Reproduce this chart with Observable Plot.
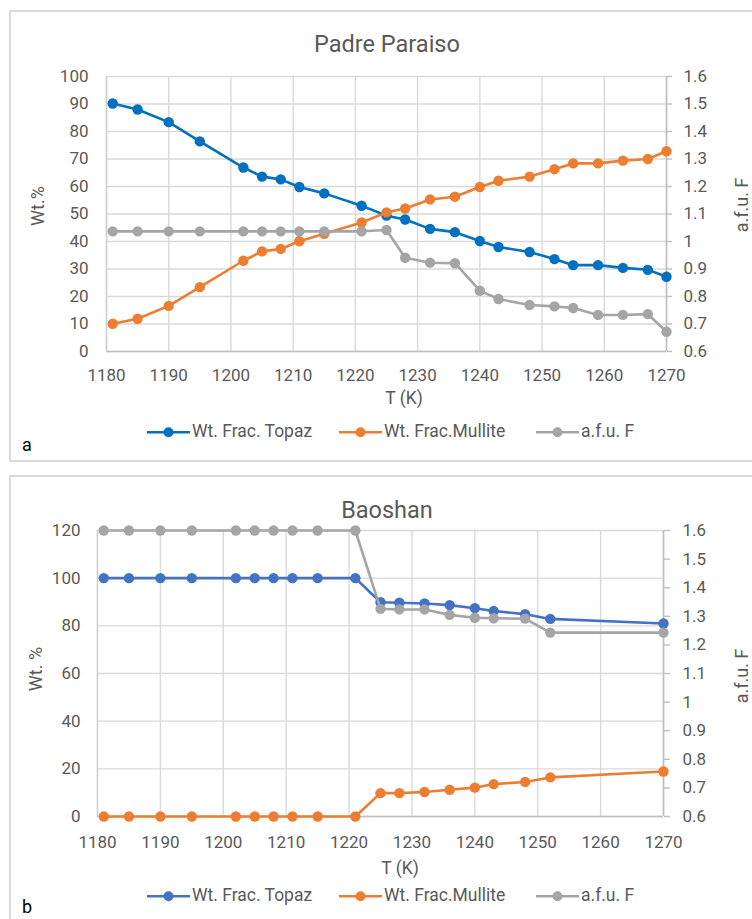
<!DOCTYPE html>
<html>
<head>
<meta charset="utf-8">
<script src="https://cdn.jsdelivr.net/npm/d3@7"></script>
<script src="https://cdn.jsdelivr.net/npm/@observablehq/plot@0.6"></script>
<style>
  body { margin: 0; background: #fff; font-family: Roboto, "Open Sans", sans-serif; }
  #page { position: relative; width: 752px; height: 919px; overflow: hidden; background: #fff; }
  .panel { position: absolute; border: 2px solid #d9d9d9; box-sizing: border-box; }
  .holder { position: absolute; left: 0; }
  .abs { position: absolute; white-space: nowrap; color: #595959; line-height: 1; }
  .title { font-size: 23.5px; transform: translate(-50%, -50%); }
  .ylab { font-size: 18px; transform: translate(-50%, -50%) rotate(-90deg); }
  .xlab { font-size: 17.5px; transform: translate(-50%, -50%); }
  .tag { color: #000; font-size: 18px; transform: translate(0, -50%); }
  .leg { position: absolute; display: flex; align-items: center; font-size: 17.5px; color: #595959; transform: translateY(-50%); white-space: nowrap; line-height: 1; }
  .leg svg { display: block; margin-right: 2px; }
</style>
</head>
<body>
<div id="page"></div>
<script>
// ---------- Data: (a) Padre Paraiso ----------
const padreT = [1181, 1185, 1190, 1195, 1202, 1205, 1208, 1211, 1215, 1221, 1225, 1228, 1232, 1236, 1240, 1243, 1248, 1252, 1255, 1259, 1263, 1267, 1270];
const padreTopaz = [90.2, 88.0, 83.4, 76.4, 66.9, 63.6, 62.6, 59.8, 57.5, 53.0, 49.4, 48.0, 44.6, 43.4, 40.2, 38.0, 36.2, 33.6, 31.4, 31.4, 30.4, 29.7, 27.2];
const padreMullite = [10.1, 11.9, 16.6, 23.4, 33.0, 36.4, 37.3, 40.1, 42.8, 46.9, 50.6, 52.0, 55.3, 56.3, 59.8, 62.1, 63.6, 66.3, 68.4, 68.4, 69.4, 70.0, 72.8];
const padreAfuF = [1.037, 1.037, 1.037, 1.037, 1.037, 1.037, 1.037, 1.037, 1.037, 1.037, 1.042, 0.941, 0.923, 0.921, 0.821, 0.791, 0.769, 0.764, 0.758, 0.733, 0.733, 0.736, 0.672];

// ---------- Data: (b) Baoshan ----------
const baoshanT = [1181, 1185, 1190, 1195, 1202, 1205, 1208, 1211, 1215, 1221, 1225, 1228, 1232, 1236, 1240, 1243, 1248, 1252, 1270];
const baoshanTopaz = [100, 100, 100, 100, 100, 100, 100, 100, 100, 100, 89.9, 89.7, 89.4, 88.7, 87.4, 86.2, 84.9, 82.9, 81.0];
const baoshanMullite = [0, 0, 0, 0, 0, 0, 0, 0, 0, 0, 9.8, 9.8, 10.3, 11.2, 12.1, 13.6, 14.5, 16.4, 18.9];
const baoshanAfuF = [1.6, 1.6, 1.6, 1.6, 1.6, 1.6, 1.6, 1.6, 1.6, 1.6, 1.326, 1.324, 1.324, 1.305, 1.295, 1.293, 1.292, 1.243, 1.243];

// ---------- Axis ticks / labels ----------
const xTicks = [1180, 1190, 1200, 1210, 1220, 1230, 1240, 1250, 1260, 1270];
const padreWtTicks = [0, 10, 20, 30, 40, 50, 60, 70, 80, 90, 100];
const baoshanWtTicks = [0, 20, 40, 60, 80, 100, 120];
const afuTicks = [0.6, 0.7, 0.8, 0.9, 1.0, 1.1, 1.2, 1.3, 1.4, 1.5, 1.6];
const seriesNames = ["Wt. Frac. Topaz", "Wt. Frac.Mullite", "a.f.u. F"];

const page = document.getElementById("page");

function el(tag, cls, css, text) {
  const e = document.createElement(tag);
  if (cls) e.className = cls;
  Object.assign(e.style, css || {});
  if (text != null) e.textContent = text;
  page.appendChild(e);
  return e;
}

function makeChart(cfg) {
  const afuMin = 0.6;
  const k = cfg.wtMax / (1.6 - afuMin);          // wt units per a.f.u. unit
  const toWt = a => (a - afuMin) * k;
  const rows = cfg.T.map((t, i) => ({T: t, topaz: cfg.topaz[i], mullite: cfg.mullite[i], afu: toWt(cfg.afu[i])}));
  const afuPos = afuTicks.map(toWt);
  const fmtAfu = v => String(+(afuMin + v / k).toFixed(1));

  const svg = Plot.plot({
    width: 752,
    height: cfg.height,
    marginLeft: cfg.mLeft,
    marginRight: cfg.mRight,
    marginTop: cfg.mTop,
    marginBottom: cfg.mBottom,
    style: {background: "transparent", fontFamily: "Roboto, sans-serif", overflow: "visible", color: "#595959"},
    x: {domain: [1180, 1270]},
    y: {domain: [0, cfg.wtMax]},
    marks: [
      Plot.gridX(xTicks, {stroke: "#d9d9d9", strokeOpacity: 1, strokeWidth: 1.4}),
      Plot.gridY(cfg.wtTicks, {stroke: "#d9d9d9", strokeOpacity: 1, strokeWidth: 1.4}),
      Plot.ruleX([1180], {stroke: "#cfcfcf", strokeWidth: 1.4}),
      Plot.ruleY([0], {stroke: "#bfbfbf", strokeWidth: 1.6}),
      Plot.ruleX([1270], {stroke: "#bfbfbf", strokeWidth: 1.6}),
      Plot.axisX(xTicks, {anchor: "bottom", tickSize: 0, tickPadding: cfg.xPad, fontSize: 17, fill: "#595959", label: null, tickFormat: d => String(d)}),
      Plot.axisY(cfg.wtTicks, {anchor: "left", tickSize: 0, tickPadding: cfg.yPad, fontSize: 17, fill: "#595959", label: null}),
      Plot.axisY(afuPos, {anchor: "right", tickSize: cfg.rTick, tickPadding: cfg.rPad, fontSize: 17, fill: "#595959", stroke: "#bfbfbf", strokeWidth: 1.4, label: null, tickFormat: fmtAfu}),
      Plot.line(rows, {x: "T", y: "topaz", stroke: cfg.colors[0], strokeWidth: 2.6}),
      Plot.dot(rows, {x: "T", y: "topaz", r: 5.2, fill: cfg.colors[0], stroke: "none"}),
      Plot.line(rows, {x: "T", y: "mullite", stroke: cfg.colors[1], strokeWidth: 2.6}),
      Plot.dot(rows, {x: "T", y: "mullite", r: 5.2, fill: cfg.colors[1], stroke: "none"}),
      Plot.line(rows, {x: "T", y: "afu", stroke: cfg.colors[2], strokeWidth: 2.6}),
      Plot.dot(rows, {x: "T", y: "afu", r: 5.2, fill: cfg.colors[2], stroke: "none"})
    ]
  });
  const holder = el("div", "holder", {top: cfg.top + "px"});
  holder.appendChild(svg);

  // Text around the chart
  el("div", "abs title", {left: cfg.titleX + "px", top: cfg.titleY + "px"}, cfg.title);
  el("div", "abs ylab", {left: cfg.yLabX + "px", top: cfg.yLabY + "px"}, cfg.yLabel);
  el("div", "abs ylab", {left: "742px", top: cfg.rLabY + "px"}, "a.f.u. F");
  el("div", "abs xlab", {left: cfg.xLabX + "px", top: cfg.xLabY + "px"}, "T (K)");
  el("div", "abs tag", {left: "22px", top: cfg.tagY + "px"}, cfg.tag);

  // Legend
  const legX = [147, 339, 536];
  seriesNames.forEach((name, i) => {
    const item = el("div", "leg", {left: legX[i] + "px", top: cfg.legY + "px"});
    const ns = "http://www.w3.org/2000/svg";
    const s = document.createElementNS(ns, "svg");
    s.setAttribute("width", "43"); s.setAttribute("height", "12");
    const ln = document.createElementNS(ns, "line");
    ln.setAttribute("x1", "0"); ln.setAttribute("x2", "43"); ln.setAttribute("y1", "6"); ln.setAttribute("y2", "6");
    ln.setAttribute("stroke", cfg.colors[i]); ln.setAttribute("stroke-width", "2.6");
    const c = document.createElementNS(ns, "circle");
    c.setAttribute("cx", "21.5"); c.setAttribute("cy", "6"); c.setAttribute("r", "5"); c.setAttribute("fill", cfg.colors[i]);
    s.appendChild(ln); s.appendChild(c);
    item.appendChild(s);
    const t = document.createElement("span"); t.textContent = name; item.appendChild(t);
  });
}

// Panels (borders)
el("div", "panel", {left: "9px", top: "10px", width: "760px", height: "452px"});
el("div", "panel", {left: "9px", top: "475px", width: "760px", height: "460px"});

makeChart({
  top: 0, height: 460, mTop: 76, mBottom: 109, mLeft: 106, mRight: 86,
  T: padreT, topaz: padreTopaz, mullite: padreMullite, afu: padreAfuF,
  wtMax: 100, wtTicks: padreWtTicks,
  colors: ["#0070c0", "#ed7d31", "#a5a5a5"],
  xPad: 17, yPad: 18, rTick: 5, rPad: 12,
  title: "Padre Paraiso", titleX: 387, titleY: 45,
  yLabel: "Wt.%", yLabX: 38, yLabY: 206, rLabY: 205,
  xLabX: 404, xLabY: 399, tag: "a", tagY: 445, legY: 432
});

makeChart({
  top: 470, height: 449, mTop: 60, mBottom: 103, mLeft: 97, mRight: 89,
  T: baoshanT, topaz: baoshanTopaz, mullite: baoshanMullite, afu: baoshanAfuF,
  wtMax: 120, wtTicks: baoshanWtTicks,
  colors: ["#4472c4", "#ed7d31", "#a5a5a5"],
  xPad: 19, yPad: 17, rTick: 6, rPad: 13,
  title: "Baoshan", titleX: 387, titleY: 511,
  yLabel: "Wt. %", yLabX: 36, yLabY: 669, rLabY: 676,
  xLabX: 400, xLabY: 869, tag: "b", tagY: 907, legY: 896
});
</script>
</body>
</html>
